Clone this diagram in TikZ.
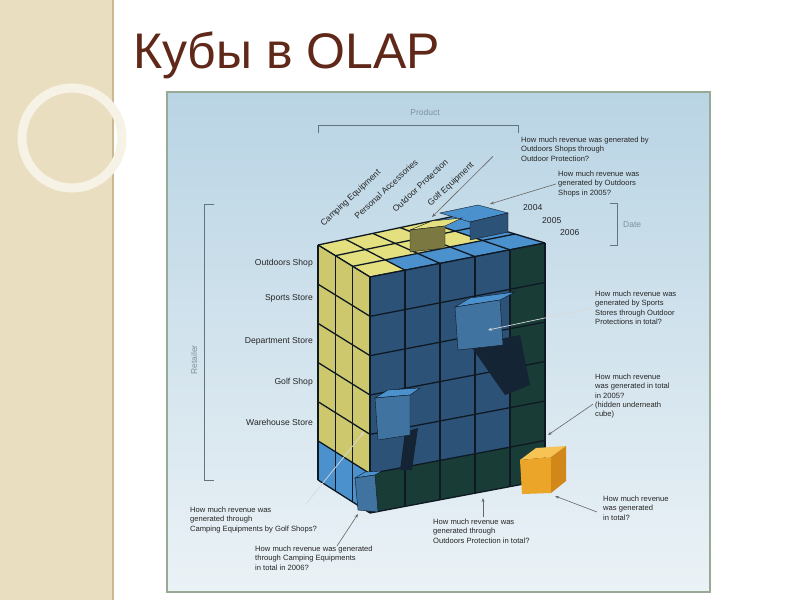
\documentclass[tikz,border=0pt]{standalone}
\usepackage{fontspec}
\setmainfont{Liberation Sans}
\usetikzlibrary{calc,arrows.meta}
\definecolor{beige}{RGB}{234,222,192}
\definecolor{tan}{RGB}{205,185,145}
\definecolor{titlec}{RGB}{95,40,25}
\definecolor{panelb}{RGB}{150,170,150}
\definecolor{ptop}{RGB}{185,212,228}
\definecolor{pbot}{RGB}{235,242,246}
\definecolor{axisg}{RGB}{125,145,155}
\definecolor{yel}{RGB}{228,224,128}
\definecolor{yelL}{RGB}{205,200,110}
\definecolor{blueF}{RGB}{45,82,120}
\definecolor{blueL}{RGB}{75,145,205}
\definecolor{blueM}{RGB}{65,115,160}
\definecolor{teal}{RGB}{25,60,55}
\definecolor{gridc}{RGB}{15,25,35}
\definecolor{org}{RGB}{235,165,40}
\definecolor{orgL}{RGB}{248,195,85}
\definecolor{orgD}{RGB}{210,135,25}
\newcommand\bl[3]{($($(#1A)!#2!(#1B)$)!#3!($(#1D)!#2!(#1C)$)$)}
\newcommand\cellfill[6]{% face, cols, rows, i, j, color
  \pgfmathsetmacro\ua{#4/#2}\pgfmathsetmacro\ub{(#4+1)/#2}%
  \pgfmathsetmacro\va{#5/#3}\pgfmathsetmacro\vb{(#5+1)/#3}%
  \fill[#6] \bl{#1}{\ua}{\va} -- \bl{#1}{\ub}{\va} -- \bl{#1}{\ub}{\vb} -- \bl{#1}{\ua}{\vb} -- cycle;}
\newcommand\gridlines[3]{%
  \foreach \k in {0,...,#2}{\pgfmathsetmacro\uu{\k/#2}
    \draw[gl] ($(#1A)!\uu!(#1B)$) -- ($(#1D)!\uu!(#1C)$);}
  \foreach \k in {0,...,#3}{\pgfmathsetmacro\uu{\k/#3}
    \draw[gl] ($(#1A)!\uu!(#1D)$) -- ($(#1B)!\uu!(#1C)$);}}
\tikzset{
  gl/.style={draw=gridc,line width=1.3pt},
  q/.style={font=\fontsize{7.6}{9.2}\selectfont,align=left,anchor=north west,inner sep=0pt,text=black!85},
  lab/.style={font=\fontsize{8.6}{10}\selectfont,inner sep=0pt,text=black!85},
  ax/.style={font=\fontsize{8.5}{10}\selectfont,text=axisg,inner sep=0pt},
  br/.style={draw=axisg!80!black,line width=0.8pt},
  arr/.style={draw=black!60,line width=0.6pt,-{Stealth[length=4pt]}},
  warr/.style={draw=white!85!black,line width=0.7pt,-{Stealth[length=4pt]}}
}
\begin{document}
\begin{tikzpicture}[x=1pt,y=-1pt]
\useasboundingbox (0,0) rectangle (800,600);
\fill[white] (0,0) rectangle (800,600);
% left strip
\fill[beige] (0,0) rectangle (113,600);
\draw[tan,line width=1.5pt] (113,0) -- (113,600);
\draw[white!60!beige,line width=9pt] (72,138) circle (50);
% title
\node[anchor=west,text=titlec,font=\fontsize{50}{56}\selectfont,inner sep=0pt] (title) at (133,55) {Кубы в OLAP};
% panel
\shade[top color=ptop,bottom color=pbot] (167,92) rectangle (710,592);
\draw[panelb,line width=1.5pt] (167,92) rectangle (710,592);
% faces coordinates
\coordinate (TA) at (370,277); \coordinate (TB) at (545,243); \coordinate (TC) at (455,216); \coordinate (TD) at (318,245);
\coordinate (FA) at (370,277); \coordinate (FB) at (545,243); \coordinate (FC) at (545,480); \coordinate (FD) at (370,513);
\coordinate (LA) at (318,245); \coordinate (LB) at (370,277); \coordinate (LC) at (370,513); \coordinate (LD) at (318,480);
% top face
\fill[yel] (TA)--(TB)--(TC)--(TD)--cycle;
\foreach \i in {1,...,4}{\cellfill{T}{5}{3}{\i}{0}{blueL}}
\cellfill{T}{5}{3}{4}{1}{blueL}
\cellfill{T}{5}{3}{4}{2}{blueL}
\gridlines{T}{5}{3}
% front face
\fill[blueF] (FA)--(FB)--(FC)--(FD)--cycle;
\foreach \j in {0,...,5}{\cellfill{F}{5}{6}{4}{\j}{teal}}
\foreach \i in {0,...,3}{\cellfill{F}{5}{6}{\i}{5}{teal}}
\gridlines{F}{5}{6}
% left face
\fill[yelL] (LA)--(LB)--(LC)--(LD)--cycle;
\foreach \i in {0,...,2}{\cellfill{L}{3}{6}{\i}{5}{blueL}}
\gridlines{L}{3}{6}
% top extra cubes
\fill[blueL,draw=gridc] (440,213)--(478,205)--(508,213)--(470,222)--cycle;
\fill[blueF,draw=gridc] (470,222)--(508,213)--(508,232)--(470,240)--cycle;
\fill[yel,draw=gridc] (410,230)--(432,221)--(462,218)--(445,226)--cycle;
\fill[yelL!60!black,draw=gridc] (410,230)--(445,226)--(445,248)--(410,252)--cycle;
% middle protruding cube with shadow
\fill[gridc!80!blueF] (470,345)--(520,335)--(530,385)--(505,395)--cycle;
\fill[blueL,draw=gridc] (455,307)--(470,298)--(515,292)--(500,300)--cycle;
\fill[blueM,draw=gridc] (455,307)--(500,300)--(503,345)--(458,350)--cycle;
% left protruding cube
\fill[gridc!80!blueF] (405,432)--(418,428)--(412,470)--(400,470)--cycle;
\fill[blueL,draw=gridc] (375,398)--(388,390)--(420,388)--(410,395)--cycle;
\fill[blueM,draw=gridc] (375,398)--(410,395)--(410,435)--(378,440)--cycle;
% bottom small cube
\fill[blueL,draw=gridc] (355,478)--(365,472)--(382,471)--(375,475)--cycle;
\fill[blueM,draw=gridc] (355,478)--(375,475)--(378,512)--(358,510)--cycle;
% orange cube
\fill[orgL] (520,460)--(536,448)--(566,446)--(551,457)--cycle;
\fill[org] (520,460)--(551,457)--(551,493)--(522,494)--cycle;
\fill[orgD] (551,457)--(566,446)--(566,481)--(551,493)--cycle;
% cube targets
\coordinate (t1) at (432,217); \coordinate (t2) at (490,204); \coordinate (t3) at (488,330);
\coordinate (t4) at (548,435); \coordinate (t5) at (555,496); \coordinate (t6) at (483,498);
\coordinate (t7) at (364,432); \coordinate (t8) at (358,514);
% axes
\node[ax] (prod) at (425,112) {Product};
\draw[br] (318,133) -- (318,125) -- (518,125) -- (518,133);
\node[ax,rotate=90] (ret) at (194,360) {Retailer};
\draw[br] (214,204) -- (204,204) -- (204,480) -- (214,480);
\node[ax,anchor=west] (date) at (623,225) {Date};
\draw[br] (610,203) -- (617,203) -- (617,245) -- (610,245);
\node[lab,anchor=west] (y4) at (523,208) {2004};
\node[lab,anchor=west] (y5) at (542,221) {2005};
\node[lab,anchor=west] (y6) at (560,233) {2006};
% product labels
\node[lab,rotate=43,anchor=south west] (p1) at (325,228) {Camping Equipment};
\node[lab,rotate=43,anchor=south west] (p2) at (358,220) {Personal Accessories};
\node[lab,rotate=43,anchor=south west] (p3) at (396,213) {Outdoor Protection};
\node[lab,rotate=43,anchor=south west] (p4) at (432,208) {Golf Equipment};
% retailer labels
\node[lab,anchor=east] (r1) at (313,263) {Outdoors Shop};
\node[lab,anchor=east] (r2) at (313,298) {Sports Store};
\node[lab,anchor=east] (r3) at (313,341) {Department Store};
\node[lab,anchor=east] (r4) at (313,382) {Golf Shop};
\node[lab,anchor=east] (r5) at (313,422) {Warehouse Store};
% questions
\node[q] (q1) at (521,137) {How much revenue was generated by\\Outdoors Shops through\\Outdoor Protection?};
\node[q] (q2) at (558,171) {How much revenue was\\generated by Outdoors\\Shops in 2005?};
\node[q] (q3) at (595,291) {How much revenue was\\generated by Sports\\Stores through Outdoor\\Protections in total?};
\node[q] (q4) at (595,374) {How much revenue\\was generated in total\\in 2005?\\(hidden underneath\\cube)};
\node[q] (q5) at (603,496) {How much revenue\\was generated\\in total?};
\node[q] (q6) at (433,519) {How much revenue was\\generated through\\Outdoors Protection in total?};
\node[q] (q7) at (190,507) {How much revenue was\\generated through\\Camping Equipments by Golf Shops?};
\node[q] (q8) at (255,546) {How much revenue was generated\\through Camping Equipments\\in total in 2006?};
% arrows
\draw[arr] (q1.south west)++(-28,-5) coordinate (s1) -- (t1);
\draw[arr] (q2.west)++(-2,0) coordinate (s2) -- (t2);
\draw[warr] (q3.west)++(-2,0) coordinate (s3) -- (t3);
\draw[arr] (q4.west)++(-2,8) coordinate (s4) -- (t4);
\draw[arr] (q5.north west)++(-6,16) coordinate (s5) -- (t5);
\draw[arr] (q6.north west)++(50,-2) coordinate (s6) -- (t6);
\draw[warr] (q7.north west)++(116,-3) coordinate (s7) -- (t7);
\draw[arr] (q8.north west)++(82,0) coordinate (s8) -- (t8);
\end{tikzpicture}
\end{document}
